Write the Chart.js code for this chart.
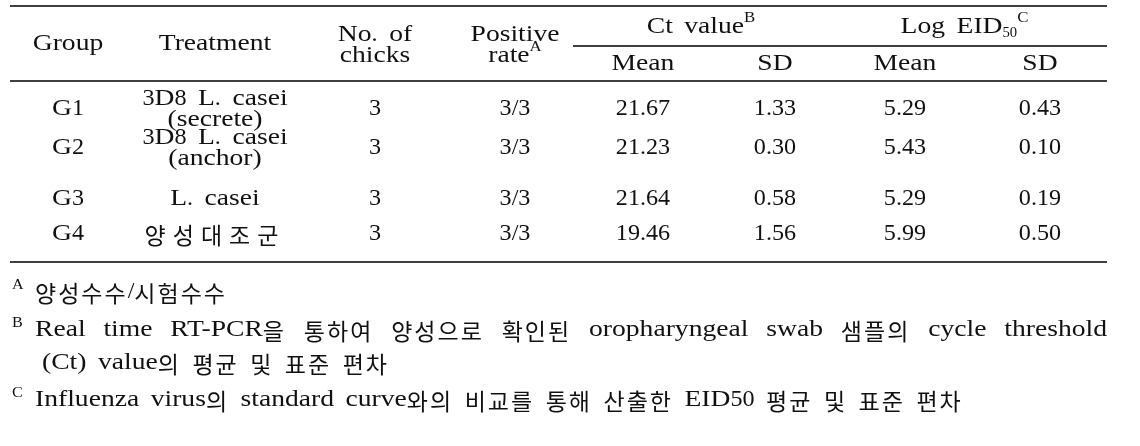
<!DOCTYPE html>
<html><head><meta charset="utf-8">
<script src="https://cdn.jsdelivr.net/npm/chart.js@4"></script>
<style>html,body{margin:0;padding:0;background:#fff;}#wrap{width:1140px;height:446px;}</style>
</head><body><div id="wrap"><canvas id="c" width="1140" height="446"></canvas></div>
<script>
// ---- data ----
const groups = ['G1','G2','G3','G4'];
const treatments = [['3D8 L. casei','(secrete)'],['3D8 L. casei','(anchor)'],['L. casei'],['양성대조군']];
const chicks = [3,3,3,3];
const positiveRate = ['3/3','3/3','3/3','3/3'];
const ctMean = [21.67,21.23,21.64,19.46];
const ctSD = [1.33,0.30,0.58,1.56];
const eidMean = [5.29,5.43,5.29,5.99];
const eidSD = [0.43,0.10,0.19,0.50];
const headTop = [['Group'],['Treatment'],['No. of','chicks'],['Positive','rate^{A}']];
const spanHeads = ['Ct value^{B}','Log EID_{50}^{C}'];
const subHeads = ['Mean','SD','Mean','SD'];
const footnotes = [
  {mark:'A', lines:['양성수수/시험수수']},
  {mark:'B', lines:['Real time RT-PCR을 통하여 양성으로 확인된 oropharyngeal swab 샘플의 cycle threshold','(Ct) value의 평균 및 표준 편차']},
  {mark:'C', lines:['Influenza virus의 standard curve와의 비교를 통해 산출한 EID50 평균 및 표준 편차']}
];

// ---- layout (positions in scale units) ----
const colX = [68,215,375,515,643,775,905,1040];
const L = {left:10,right:1107,top:6,sub:46,head:81,bottom:262,spanLeft:573,
  headY:44, headY1:35, headY2:56, spanY:27, subY:64,
  rowY:[109,148,199,234], lineGap:21,
  fnY:[292,330,363,400], fnMarkX:12, fnTextX:35, fnIndentX:42};
const FS = 23;
const FONT = "'Liberation Serif',serif";
const KFONT = "'Noto Sans CJK KR','Noto Sans CJK SC',sans-serif";
const COLOR = '#111';
const STRETCH = {l:1.2, d:1.05, h:1.0};
let HSPACE = 2;

function cls(ch){
  if(/[\u3130-\u318F\uAC00-\uD7AF]/.test(ch)) return 'h';
  if(/[0-9.\/]/.test(ch)) return 'd';
  return 'l';
}
function runs(word){
  const r=[]; for(const ch of word){const c=cls(ch); if(r.length&&r[r.length-1].c===c) r[r.length-1].t+=ch; else r.push({c,t:ch});} return r;
}
function setFont(ctx,c,size){ ctx.font = (c==='h'? Math.round(size*0.98)+'px '+KFONT : size+'px '+FONT); }
function runWidth(ctx,r,size){
  setFont(ctx,r.c,size);
  if(r.c==='h'){ let w=0; for(const ch of r.t) w+=ctx.measureText(ch).width+HSPACE; return w; }
  return ctx.measureText(r.t).width*STRETCH[r.c];
}
function wordWidth(ctx,w,size){ let t=0; runs(w).forEach(r=>t+=runWidth(ctx,r,size)); return t; }
function drawWord(ctx,w,x,y,size){
  runs(w).forEach(r=>{
    setFont(ctx,r.c,size);
    if(r.c==='h'){ for(const ch of r.t){ ctx.fillText(ch,x,y+1); x+=ctx.measureText(ch).width+HSPACE; } }
    else { const k=STRETCH[r.c]; ctx.save(); ctx.translate(x,y); ctx.scale(k,1); ctx.fillText(r.t,0,0); ctx.restore(); x+=ctx.measureText(r.t).width*k; }
  });
  return x;
}
function parse(s){
  const out=[]; const re=/(\^\{[^}]*\}|_\{[^}]*\})/;
  s.split(re).forEach(p=>{ if(!p) return;
    if(p.startsWith('^{')) out.push({t:p.slice(2,-1),k:'sup'});
    else if(p.startsWith('_{')) out.push({t:p.slice(2,-1),k:'sub'});
    else out.push({t:p,k:'n'});});
  return out;
}
function segWidth(ctx,seg,size,gap){
  if(seg.k==='n'){
    const w=seg.t.split(' '); let tot=0;
    w.forEach((x,i)=>{tot+=wordWidth(ctx,x,size); if(i<w.length-1) tot+=gap;});
    return tot;
  }
  return wordWidth(ctx,seg.t,Math.round(size*0.62));
}
function drawRich(ctx,s,x,y,align,size,gap){
  size=size||FS; gap=gap==null?size*0.5:gap;
  const segs=parse(s);
  let tot=0; segs.forEach(g=>tot+=segWidth(ctx,g,size,gap));
  let cx = align==='center'? x-tot/2 : (align==='right'? x-tot : x);
  ctx.textBaseline='middle'; ctx.textAlign='left'; ctx.fillStyle=COLOR;
  segs.forEach(g=>{
    if(g.k==='n'){
      const w=g.t.split(' ');
      w.forEach((wd,i)=>{cx=drawWord(ctx,wd,cx,y,size); if(i<w.length-1) cx+=gap;});
    } else {
      const sz=Math.round(size*0.62);
      cx=drawWord(ctx,g.t,cx,y+(g.k==='sup'?-size*0.36:size*0.26),sz);
    }
  });
}
function drawJustified(ctx,s,x0,x1,y,size){
  ctx.textBaseline='middle'; ctx.textAlign='left'; ctx.fillStyle=COLOR;
  const w=s.split(' '); let nat=0; w.forEach(t=>nat+=wordWidth(ctx,t,size));
  const gap=(x1-x0-nat)/(w.length-1); let cx=x0;
  w.forEach(t=>{cx=drawWord(ctx,t,cx,y,size)+gap;});
}

const tablePlugin = {
  id:'table',
  afterDraw(chart){
    const ctx=chart.ctx, X=chart.scales.x, Y=chart.scales.y;
    const px=v=>X.getPixelForValue(v), py=v=>Y.getPixelForValue(v);
    ctx.save();
    ctx.strokeStyle='#000'; ctx.lineWidth=1.6;
    const hline=(a,b,y)=>{ctx.beginPath();ctx.moveTo(px(a),py(y));ctx.lineTo(px(b),py(y));ctx.stroke();};
    hline(L.left,L.right,L.top); hline(L.spanLeft,L.right,L.sub);
    hline(L.left,L.right,L.head); hline(L.left,L.right,L.bottom);
    headTop.forEach((h,i)=>{
      if(h.length===1) drawRich(ctx,h[0],px(colX[i]),py(L.headY),'center');
      else { drawRich(ctx,h[0],px(colX[i]),py(L.headY1),'center'); drawRich(ctx,h[1],px(colX[i]),py(L.headY2),'center'); }
    });
    drawRich(ctx,spanHeads[0],(px(colX[4])+px(colX[5]))/2-8,py(L.spanY),'center');
    drawRich(ctx,spanHeads[1],(px(colX[6])+px(colX[7]))/2-8,py(L.spanY),'center');
    subHeads.forEach((h,i)=>drawRich(ctx,h,px(colX[4+i]),py(L.subY),'center'));
    chart.data.datasets.forEach((ds,di)=>{
      const meta=chart.getDatasetMeta(di);
      meta.data.forEach((el,ri)=>{
        const v=ds.labelsText[ri];
        HSPACE = 7;
        if(Array.isArray(v) && v.length===2){
          drawRich(ctx,v[0],el.x,el.y-L.lineGap/2,'center');
          drawRich(ctx,v[1],el.x,el.y+L.lineGap/2,'center');
        } else drawRich(ctx,Array.isArray(v)?v[0]:String(v),el.x,el.y,'center');
        HSPACE = 2;
      });
    });
    const fs=FS;
    footnotes.forEach((f,i)=>{
      const y=py(L.fnY[i===0?0:(i===1?1:3)]);
      ctx.font=Math.round(fs*0.62)+'px '+FONT; ctx.fillStyle=COLOR; ctx.textBaseline='middle';
      ctx.save(); ctx.translate(px(L.fnMarkX),y-fs*0.3); ctx.scale(1.15,1); ctx.fillText(f.mark,0,0); ctx.restore();
      if(f.mark==='B'){
        drawJustified(ctx,f.lines[0],px(L.fnTextX),px(L.right),y,fs);
        drawRich(ctx,f.lines[1],px(L.fnIndentX),py(L.fnY[2]),'left',fs);
      } else drawRich(ctx,f.lines[0],px(L.fnTextX),y,'left',fs);
    });
    ctx.restore();
  }
};

function col(vals,ci,fmt){
  return {data:vals.map((v,ri)=>({x:colX[ci],y:L.rowY[ri]})), labelsText:vals.map(fmt), pointRadius:0, showLine:false};
}
const f2=v=>v.toFixed(2);
new Chart(document.getElementById('c'),{
  type:'scatter',
  data:{datasets:[
    col(groups,0,v=>v), col(treatments,1,v=>v), col(chicks,2,v=>String(v)), col(positiveRate,3,v=>v),
    col(ctMean,4,f2), col(ctSD,5,f2), col(eidMean,6,f2), col(eidSD,7,f2)
  ]},
  options:{responsive:false,animation:false,devicePixelRatio:1,
    layout:{padding:0},
    plugins:{legend:{display:false},tooltip:{enabled:false}},
    events:[],
    scales:{x:{type:'linear',min:0,max:1140,display:false},y:{type:'linear',min:0,max:446,reverse:true,display:false}}
  },
  plugins:[tablePlugin]
});
</script></body></html>
